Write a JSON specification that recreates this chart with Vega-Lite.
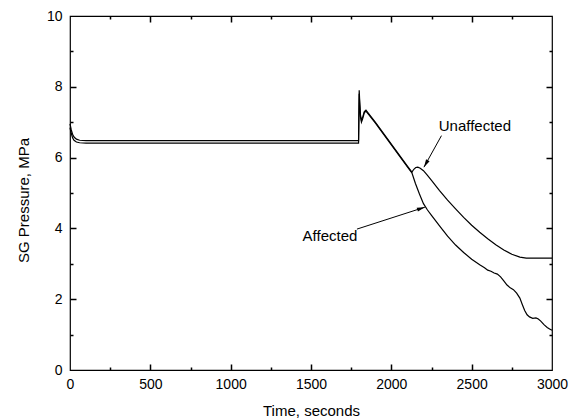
{
  "$schema": "https://vega.github.io/schema/vega-lite/v6.json",
  "width": 482,
  "height": 354,
  "autosize": {"type": "none"},
  "padding": {"left": 70, "top": 16, "right": 17, "bottom": 49},
  "background": "white",
  "config": {
    "view": {"stroke": "black", "strokeWidth": 1.2},
    "axis": {
      "grid": false,
      "domain": false,
      "ticks": false,
      "gridColor": "black",
      "gridOpacity": 1,
      "gridWidth": 1.5,
      "gridCap": "butt",
      "labelColor": "black",
      "titleColor": "black",
      "labelFont": "Liberation Sans",
      "titleFont": "Liberation Sans",
      "labelFontSize": 14,
      "titleFontSize": 15,
      "titleFontWeight": "normal",
      "format": "d"
    },
    "text": {"font": "Liberation Sans"}
  },
  "datasets": {
    "lines": [
      {"s": "Unaffected", "t": 0, "p": 6.95}, {"s": "Unaffected", "t": 8, "p": 6.78}, {"s": "Unaffected", "t": 16, "p": 6.66}, {"s": "Unaffected", "t": 25, "p": 6.58}, {"s": "Unaffected", "t": 40, "p": 6.52}, {"s": "Unaffected", "t": 60, "p": 6.49}, {"s": "Unaffected", "t": 100, "p": 6.48}, {"s": "Unaffected", "t": 1000, "p": 6.48}, {"s": "Unaffected", "t": 1796, "p": 6.48}, {"s": "Unaffected", "t": 1800, "p": 7.9}, {"s": "Unaffected", "t": 1803, "p": 7.6}, {"s": "Unaffected", "t": 1808, "p": 7.2}, {"s": "Unaffected", "t": 1814, "p": 7.05}, {"s": "Unaffected", "t": 1822, "p": 7.15}, {"s": "Unaffected", "t": 1832, "p": 7.3}, {"s": "Unaffected", "t": 1842, "p": 7.34}, {"s": "Unaffected", "t": 1900, "p": 7.0}, {"s": "Unaffected", "t": 1950, "p": 6.69}, {"s": "Unaffected", "t": 2000, "p": 6.38}, {"s": "Unaffected", "t": 2050, "p": 6.07}, {"s": "Unaffected", "t": 2100, "p": 5.76}, {"s": "Unaffected", "t": 2128, "p": 5.59}, {"s": "Unaffected", "t": 2140, "p": 5.67}, {"s": "Unaffected", "t": 2152, "p": 5.72}, {"s": "Unaffected", "t": 2165, "p": 5.73}, {"s": "Unaffected", "t": 2180, "p": 5.7}, {"s": "Unaffected", "t": 2200, "p": 5.63}, {"s": "Unaffected", "t": 2225, "p": 5.5}, {"s": "Unaffected", "t": 2250, "p": 5.36}, {"s": "Unaffected", "t": 2300, "p": 5.07}, {"s": "Unaffected", "t": 2350, "p": 4.8}, {"s": "Unaffected", "t": 2400, "p": 4.55}, {"s": "Unaffected", "t": 2450, "p": 4.31}, {"s": "Unaffected", "t": 2500, "p": 4.09}, {"s": "Unaffected", "t": 2550, "p": 3.89}, {"s": "Unaffected", "t": 2600, "p": 3.71}, {"s": "Unaffected", "t": 2650, "p": 3.54}, {"s": "Unaffected", "t": 2700, "p": 3.39}, {"s": "Unaffected", "t": 2750, "p": 3.27}, {"s": "Unaffected", "t": 2800, "p": 3.19}, {"s": "Unaffected", "t": 2840, "p": 3.16}, {"s": "Unaffected", "t": 2900, "p": 3.16}, {"s": "Unaffected", "t": 3000, "p": 3.16},
      {"s": "Affected", "t": 0, "p": 6.85}, {"s": "Affected", "t": 8, "p": 6.68}, {"s": "Affected", "t": 16, "p": 6.56}, {"s": "Affected", "t": 25, "p": 6.49}, {"s": "Affected", "t": 40, "p": 6.44}, {"s": "Affected", "t": 60, "p": 6.42}, {"s": "Affected", "t": 100, "p": 6.41}, {"s": "Affected", "t": 1000, "p": 6.41}, {"s": "Affected", "t": 1796, "p": 6.41}, {"s": "Affected", "t": 1800, "p": 7.8}, {"s": "Affected", "t": 1803, "p": 7.5}, {"s": "Affected", "t": 1808, "p": 7.15}, {"s": "Affected", "t": 1814, "p": 7.0}, {"s": "Affected", "t": 1822, "p": 7.1}, {"s": "Affected", "t": 1832, "p": 7.27}, {"s": "Affected", "t": 1842, "p": 7.31}, {"s": "Affected", "t": 1900, "p": 6.98}, {"s": "Affected", "t": 1950, "p": 6.67}, {"s": "Affected", "t": 2000, "p": 6.36}, {"s": "Affected", "t": 2050, "p": 6.05}, {"s": "Affected", "t": 2100, "p": 5.74}, {"s": "Affected", "t": 2128, "p": 5.57}, {"s": "Affected", "t": 2150, "p": 5.27}, {"s": "Affected", "t": 2175, "p": 4.97}, {"s": "Affected", "t": 2200, "p": 4.7}, {"s": "Affected", "t": 2225, "p": 4.52}, {"s": "Affected", "t": 2250, "p": 4.37}, {"s": "Affected", "t": 2300, "p": 4.07}, {"s": "Affected", "t": 2350, "p": 3.78}, {"s": "Affected", "t": 2400, "p": 3.53}, {"s": "Affected", "t": 2450, "p": 3.32}, {"s": "Affected", "t": 2500, "p": 3.13}, {"s": "Affected", "t": 2550, "p": 2.97}, {"s": "Affected", "t": 2580, "p": 2.89}, {"s": "Affected", "t": 2600, "p": 2.82}, {"s": "Affected", "t": 2620, "p": 2.79}, {"s": "Affected", "t": 2640, "p": 2.74}, {"s": "Affected", "t": 2660, "p": 2.71}, {"s": "Affected", "t": 2680, "p": 2.63}, {"s": "Affected", "t": 2700, "p": 2.52}, {"s": "Affected", "t": 2720, "p": 2.4}, {"s": "Affected", "t": 2740, "p": 2.32}, {"s": "Affected", "t": 2760, "p": 2.27}, {"s": "Affected", "t": 2780, "p": 2.17}, {"s": "Affected", "t": 2800, "p": 2.03}, {"s": "Affected", "t": 2815, "p": 1.85}, {"s": "Affected", "t": 2830, "p": 1.68}, {"s": "Affected", "t": 2845, "p": 1.56}, {"s": "Affected", "t": 2860, "p": 1.5}, {"s": "Affected", "t": 2880, "p": 1.46}, {"s": "Affected", "t": 2900, "p": 1.47}, {"s": "Affected", "t": 2915, "p": 1.44}, {"s": "Affected", "t": 2930, "p": 1.38}, {"s": "Affected", "t": 2950, "p": 1.28}, {"s": "Affected", "t": 2970, "p": 1.2}, {"s": "Affected", "t": 2985, "p": 1.16}, {"s": "Affected", "t": 3000, "p": 1.12}
    ],
    "labels": [
      {"label": "Unaffected", "t": 2520, "p": 6.9},
      {"label": "Affected", "t": 1618, "p": 3.79}
    ],
    "arrows": [
      {"label": "Unaffected", "t": 2312, "p": 6.62, "t2": 2203, "p2": 5.73},
      {"label": "Affected", "t": 1786, "p": 3.98, "t2": 2209, "p2": 4.6}
    ]
  },
  "resolve": {"axis": {"x": "independent", "y": "independent"}},
  "layer": [
    {
      "data": {"name": "lines"},
      "mark": {"type": "line", "color": "black", "strokeWidth": 1.2},
      "encoding": {
        "x": {"field": "t", "type": "quantitative", "scale": {"domain": [0, 3000], "nice": false, "zero": false},
          "axis": {"orient": "bottom", "values": [0, 500, 1000, 1500, 2000, 2500, 3000], "labelPadding": 7, "title": "Time, seconds", "titleX": 241, "titleY": 45, "titleBaseline": "alphabetic", "titleAlign": "center", "labelFlush": false}},
        "y": {"field": "p", "type": "quantitative", "scale": {"domain": [0, 10], "nice": false, "zero": false},
          "axis": {"orient": "left", "values": [0, 2, 4, 6, 8, 10], "labelPadding": 8, "title": "SG Pressure, MPa", "titleAngle": -90, "titleX": -42, "titleY": 184, "titleBaseline": "alphabetic", "titleAlign": "center", "labelFlush": false}},
        "detail": {"field": "s"}
      }
    },
    {
      "data": {"name": "labels"},
      "mark": {"type": "text", "fontSize": 15, "color": "black", "align": "center", "baseline": "middle"},
      "encoding": {
        "x": {"field": "t", "type": "quantitative", "scale": {"domain": [0, 3000], "nice": false, "zero": false},
          "axis": {"orient": "bottom", "values": [500, 1000, 1500, 2000, 2500], "grid": true, "gridDash": [6, 342], "labels": false, "title": null}},
        "y": {"field": "p", "type": "quantitative", "scale": {"domain": [0, 10], "nice": false, "zero": false},
          "axis": {"orient": "left", "values": [2, 4, 6, 8], "grid": true, "gridDash": [6, 470], "labels": false, "title": null}},
        "text": {"field": "label"}
      }
    },
    {
      "data": {"name": "arrows"},
      "mark": {"type": "rule", "color": "black", "strokeWidth": 1},
      "encoding": {
        "x": {"field": "t", "type": "quantitative", "scale": {"domain": [0, 3000], "nice": false, "zero": false},
          "axis": {"orient": "top", "values": [250, 750, 1250, 1750, 2250, 2750], "grid": true, "gridDash": [3, 348], "labels": false, "title": null}},
        "y": {"field": "p", "type": "quantitative", "scale": {"domain": [0, 10], "nice": false, "zero": false},
          "axis": {"orient": "right", "values": [1, 3, 5, 7, 9], "grid": true, "gridDash": [3, 476], "labels": false, "title": null}},
        "x2": {"field": "t2"},
        "y2": {"field": "p2"}
      }
    },
    {
      "data": {"name": "arrows"},
      "transform": [{"filter": "datum.label === 'Unaffected'"}],
      "mark": {"type": "point", "filled": true, "color": "black", "opacity": 1, "size": 64, "shape": "M0,0L0.5,2L-0.5,2Z", "angle": 209},
      "encoding": {
        "x": {"field": "t2", "type": "quantitative", "scale": {"domain": [0, 3000], "nice": false, "zero": false}, "axis": null},
        "y": {"field": "p2", "type": "quantitative", "scale": {"domain": [0, 10], "nice": false, "zero": false}, "axis": null}
      }
    },
    {
      "data": {"name": "arrows"},
      "transform": [{"filter": "datum.label === 'Affected'"}],
      "mark": {"type": "point", "filled": true, "color": "black", "opacity": 1, "size": 64, "shape": "M0,0L0.5,2L-0.5,2Z", "angle": 72},
      "encoding": {
        "x": {"field": "t2", "type": "quantitative", "scale": {"domain": [0, 3000], "nice": false, "zero": false}, "axis": null},
        "y": {"field": "p2", "type": "quantitative", "scale": {"domain": [0, 10], "nice": false, "zero": false}, "axis": null}
      }
    }
  ]
}
